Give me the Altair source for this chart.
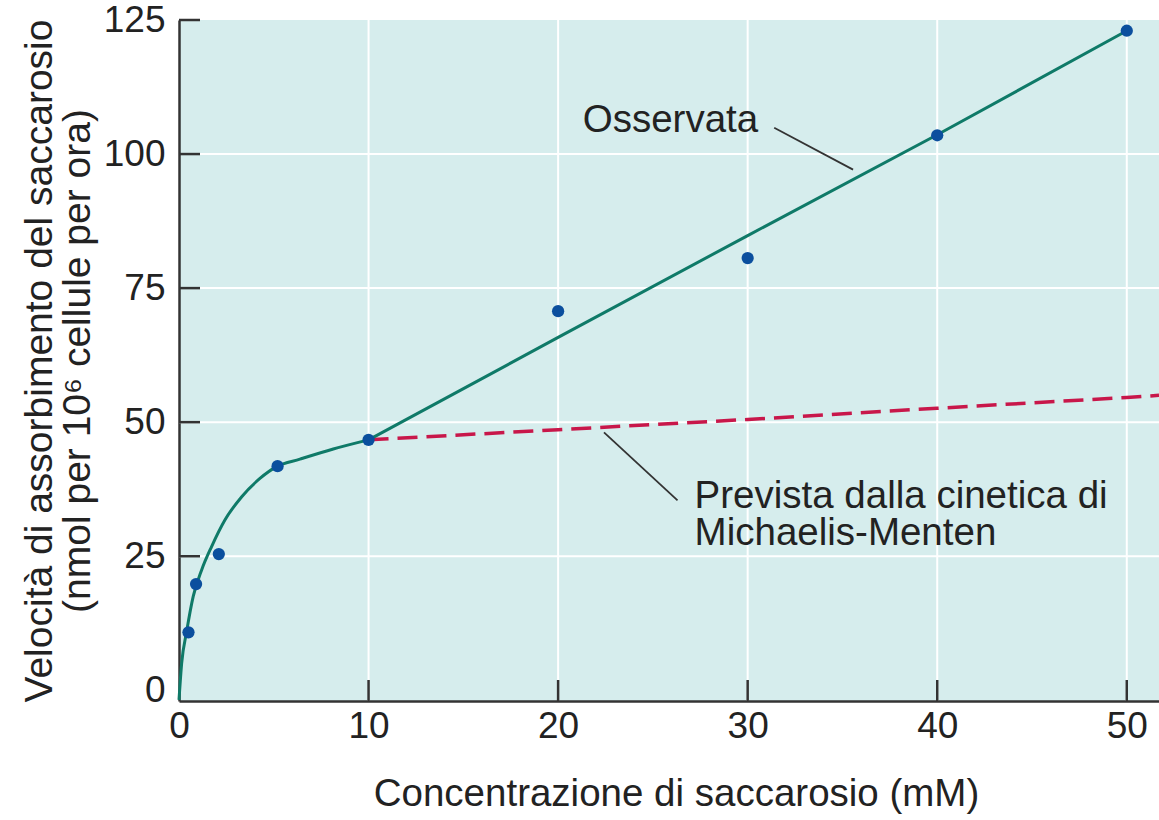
import altair as alt
import pandas as pd

# Observed data points (sucrose concentration mM, uptake rate)
obs_x = [0.5, 0.9, 2.1, 5.2, 10, 20, 30, 40, 50]
obs_y = [10.8, 19.8, 25.4, 41.8, 46.7, 70.7, 80.6, 103.5, 123.0]

# Observed fitted curve: saturating part (0-10 mM)
curve_x = [0, 0.14, 0.4, 0.75, 1.19, 1.72, 2.43, 3.31, 4.27, 5.15, 6.38, 8.14, 10]
curve_y = [-1.8, 5.0, 10.9, 17.5, 22.4, 26.8, 31.8, 36.1, 39.5, 41.7, 43.1, 45.0, 46.7]

# Observed fitted curve: linear part (10-50 mM)
lin_x = [10, 20, 30, 40, 50]
lin_y = [46.7, 65.8, 84.8, 103.6, 123.0]

# Michaelis-Menten prediction (dashed)
mm_x = [10, 20, 30, 40, 50, 51.7]
mm_y = [46.7, 48.6, 50.5, 52.6, 54.6, 55.0]

x_ticks = [0, 10, 20, 30, 40, 50]
y_ticks = [0, 25, 50, 75, 100, 125]
x_grid = [10, 20, 30, 40, 50]
y_grid = [25, 50, 75, 100]
y_tickmarks = [25, 50, 75, 100, 125]

X_DOMAIN = [0, 51.7]
Y_DOMAIN = [-2, 125]

FONT = "Liberation Sans"
GREEN = "#0f7a68"
BLUE = "#0b4f9e"
RED = "#c8174a"
AXIS = "#333333"
TEXT = "#222222"

xs = alt.Scale(domain=X_DOMAIN, nice=False, zero=False)
ys = alt.Scale(domain=Y_DOMAIN, nice=False, zero=False)

obs = pd.DataFrame({"x": obs_x, "y": obs_y})
curve = pd.DataFrame({"x": curve_x, "y": curve_y})
lin = pd.DataFrame({"x": lin_x, "y": lin_y})
mm = pd.DataFrame({"x": mm_x, "y": mm_y})
one = pd.DataFrame({"k": [0]})

xgrid_df = pd.DataFrame({"x": x_grid})
ygrid_df = pd.DataFrame({"y": y_grid})
ytm_df = pd.DataFrame({"y": y_tickmarks})

x_axis = alt.Axis(
    values=x_ticks, grid=False, ticks=False, labelFontSize=37, labelFont=FONT,
    labelColor=TEXT, labelPadding=7, labelFlush=False, domainColor=AXIS, domainWidth=2.5,
    title="Concentrazione di saccarosio (mM)", titleFont=FONT, titleFontSize=38.5,
    titleFontWeight="normal", titleColor=TEXT, titlePadding=31, titleX=497,
)
y_axis = alt.Axis(
    values=y_ticks, grid=False, ticks=False, labelFontSize=37, labelFont=FONT,
    labelColor=TEXT, labelPadding=14, labelFlush=False, domainColor=AXIS, domainWidth=2.5,
    title=["Velocità di assorbimento del saccarosio", "(nmol per 10⁶ cellule per ora)"],
    titleFont=FONT, titleFontSize=39, titleFontWeight="normal", titleColor=TEXT,
    titlePadding=6, titleLineHeight=38,
)

base_axes = alt.Chart(obs).mark_point(opacity=0).encode(
    x=alt.X("x:Q", scale=xs, axis=x_axis),
    y=alt.Y("y:Q", scale=ys, axis=y_axis),
)

xgrid = alt.Chart(xgrid_df).mark_rule(color="white", strokeWidth=2).encode(
    x=alt.X("x:Q", scale=xs)
)
ygrid = alt.Chart(ygrid_df).mark_rule(color="white", strokeWidth=2).encode(
    y=alt.Y("y:Q", scale=ys)
)

mm_line = alt.Chart(mm).mark_line(color=RED, strokeWidth=3.5, strokeDash=[20, 9]).encode(
    x=alt.X("x:Q", scale=xs), y=alt.Y("y:Q", scale=ys)
)
curve_line = alt.Chart(curve).mark_line(color=GREEN, strokeWidth=3, interpolate="monotone").encode(
    x=alt.X("x:Q", scale=xs), y=alt.Y("y:Q", scale=ys)
)
lin_line = alt.Chart(lin).mark_line(color=GREEN, strokeWidth=3).encode(
    x=alt.X("x:Q", scale=xs), y=alt.Y("y:Q", scale=ys)
)
points = alt.Chart(obs).mark_circle(color=BLUE, size=150, opacity=1).encode(
    x=alt.X("x:Q", scale=xs), y=alt.Y("y:Q", scale=ys)
)

# Leader lines for annotations
lead1 = alt.Chart(one).mark_rule(color="#333333", strokeWidth=1.8).encode(
    x=alt.datum(31.4, scale=xs), y=alt.datum(104.9, scale=ys),
    x2=alt.datum(35.56), y2=alt.datum(97.1),
)
lead2 = alt.Chart(one).mark_rule(color="#333333", strokeWidth=1.8).encode(
    x=alt.datum(22.42, scale=xs), y=alt.datum(48.1, scale=ys),
    x2=alt.datum(26.3), y2=alt.datum(35.4),
)

txt1 = alt.Chart(one).mark_text(
    text="Osservata", font=FONT, fontSize=38.5, color=TEXT, align="left", baseline="alphabetic"
).encode(x=alt.datum(21.3, scale=xs), y=alt.datum(104.2, scale=ys))
txt2 = alt.Chart(one).mark_text(
    text=["Prevista dalla cinetica di", "Michaelis-Menten"], font=FONT, fontSize=38.5,
    lineHeight=37, color=TEXT, align="left", baseline="alphabetic"
).encode(x=alt.datum(27.2, scale=xs), y=alt.datum(34.0, scale=ys))

# Inward tick marks
ytm = alt.Chart(ytm_df).mark_rule(color=AXIS, strokeWidth=2.5).encode(
    y=alt.Y("y:Q", scale=ys), x=alt.value(0), x2=alt.value(21)
)
xtm = alt.Chart(xgrid_df).mark_rule(color=AXIS, strokeWidth=2.5).encode(
    x=alt.X("x:Q", scale=xs), y=alt.value(660), y2=alt.value(681)
)

chart = alt.layer(
    base_axes, xgrid, ygrid, mm_line, curve_line, lin_line, points,
    lead1, lead2, txt1, txt2, ytm, xtm,
).properties(
    width=980, height=681,
    autosize=alt.AutoSizeParams(type="none"),
    padding={"left": 179, "top": 20, "right": 0, "bottom": 119},
    background="white",
).configure_view(fill="#d6eded", stroke=None)

chart.save("out.html", embed_options={"renderer": "svg", "actions": False})
